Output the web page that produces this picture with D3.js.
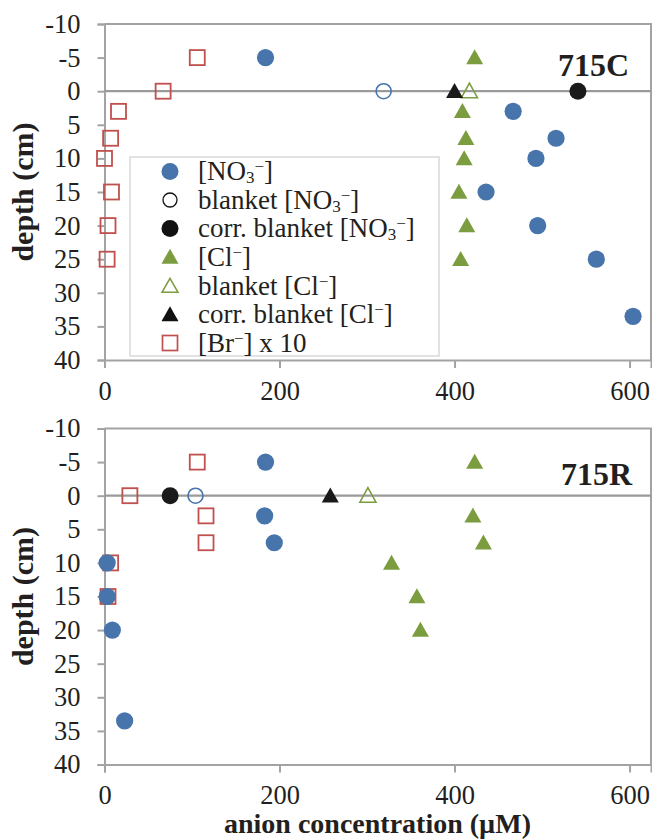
<!DOCTYPE html>
<html><head><meta charset="utf-8">
<script src="https://cdn.jsdelivr.net/npm/d3@7"></script>
<style>
body{margin:0;background:#fff;}
svg{display:block;}
svg text{font-family:"Liberation Serif","Times New Roman",serif;}
</style></head>
<body><svg id="c" width="652" height="839"></svg>
<script>
// ---- data (concentration in µM, depth in cm) ----
const xTicks = [0, 200, 400, 600];
const yTicks = [-10, -5, 0, 5, 10, 15, 20, 25, 30, 35, 40];

// 715C
const no3DepthC = [-5, 3, 7, 10, 15, 20, 25, 33.5];
const no3C      = [184, 467, 516, 493, 436, 495, 562, 604];
const clDepthC  = [-5, 3, 7, 10, 15, 20, 25];
const clC       = [423, 409, 413, 411, 405, 414, 407];
const brDepthC  = [-5, 0, 3, 7, 10, 15, 20, 25];
const brC       = [106, 67, 16, 7, 0, 8, 4, 3];
const blankNO3C = 319, corrNO3C = 541, blankClC = 417, corrClC = 400;

// 715R
const no3DepthR = [-5, 3, 7, 10, 15, 20, 33.5];
const no3R      = [184, 183, 194, 3, 3, 9, 23];
const clDepthR  = [-5, 3, 7, 10, 15, 20];
const clR       = [423, 421, 433, 328, 357, 361];
const brDepthR  = [-5, 0, 3, 7, 10, 15];
const brR       = [106, 29, 116, 116, 7, 4];
const blankNO3R = 104, corrNO3R = 75, blankClR = 301, corrClR = 258;

const legendLabels = ["[NO3−]", "blanket [NO3−]", "corr. blanket [NO3−]", "[Cl−]", "blanket [Cl−]", "corr. blanket [Cl−]", "[Br−] x 10"];

// ---- styles ----
const BLUE = "#4674ab", GREEN = "#7b9c3f", RED = "#c0504d", AX = "#a3a3a3", TXT = "#231f20";

const svg = d3.select("#c");
const x = d3.scaleLinear().domain([0, 624.5]).range([104.5, 651]);
const fmt = d => String(d); // plain hyphen minus, as in the reference

const panels = [
  {name: "715C", top: 24, no3: no3C, no3D: no3DepthC, cl: clC, clD: clDepthC, br: brC, brD: brDepthC,
   bN: blankNO3C, cN: corrNO3C, bC: blankClC, cC: corrClC, legend: true},
  {name: "715R", top: 428.5, no3: no3R, no3D: no3DepthR, cl: clR, clD: clDepthR, br: brR, brD: brDepthR,
   bN: blankNO3R, cN: corrNO3R, bC: blankClR, cC: corrClR, legend: false}
];

const tri = (g, cx, cy, w, h) => g.append("path")
  .attr("d", `M${cx},${cy - h*0.55} L${cx + w/2},${cy + h*0.45} L${cx - w/2},${cy + h*0.45} Z`);

panels.forEach(p => {
  const y = d3.scaleLinear().domain([-10, 40]).range([p.top, p.top + 336]);
  const g = svg.append("g");

  // frame: top & right border
  g.append("path").attr("d", `M104.5,${p.top}H651V${p.top + 336}`).attr("fill", "none")
    .attr("stroke", AX).attr("stroke-width", 2);

  // y axis
  const ya = g.append("g").attr("transform", "translate(104.5,0)")
    .call(d3.axisLeft(y).tickValues(yTicks).tickSize(7).tickPadding(17).tickFormat(fmt));
  ya.attr("font-family", null);
  ya.select(".domain").attr("stroke", AX).attr("stroke-width", 2);
  ya.selectAll(".tick line").attr("stroke", AX).attr("stroke-width", 2);
  ya.selectAll("text").attr("font-size", 26.5).attr("fill", TXT);

  // x axis
  const xa = g.append("g").attr("transform", `translate(0,${p.top + 336})`)
    .call(d3.axisBottom(x).tickValues(xTicks).tickSize(8).tickPadding(13).tickFormat(fmt));
  xa.attr("font-family", null);
  xa.select(".domain").attr("stroke", AX).attr("stroke-width", 2);
  xa.selectAll(".tick line").attr("stroke", AX).attr("stroke-width", 2);
  xa.selectAll("text").attr("font-size", 26.5).attr("fill", TXT);

  // zero line
  g.append("line").attr("x1", 104.5).attr("x2", 651).attr("y1", y(0)).attr("y2", y(0))
    .attr("stroke", "#9a9a9a").attr("stroke-width", 2.2);

  // y title
  g.append("text").attr("transform", `translate(33,${p.top + 168}) rotate(-90)`)
    .attr("text-anchor", "middle").attr("font-weight", "bold").attr("font-size", 30)
    .attr("fill", TXT).text("depth (cm)");

  // panel label
  g.append("text").attr("x", p.name === "715C" ? 629 : 632).attr("y", p.top + (p.name === "715C" ? 52 : 56))
    .attr("text-anchor", "end").attr("font-weight", "bold").attr("font-size", 32)
    .attr("fill", TXT).text(p.name);

  // legend
  if (p.legend) {
    const lg = g.append("g");
    lg.append("rect").attr("x", 130).attr("y", 157).attr("width", 309).attr("height", 199)
      .attr("fill", "#fff").attr("stroke", "#d9d9d9").attr("stroke-width", 1.5);
    const rows = [171.5, 200, 228.5, 257, 286, 314.5, 343];
    const mx = 170;
    lg.append("circle").attr("cx", mx).attr("cy", rows[0]).attr("r", 8.5).attr("fill", BLUE);
    lg.append("circle").attr("cx", mx).attr("cy", rows[1]).attr("r", 7).attr("fill", "none").attr("stroke", "#111").attr("stroke-width", 1.3);
    lg.append("circle").attr("cx", mx).attr("cy", rows[2]).attr("r", 8.5).attr("fill", "#111");
    tri(lg, mx, rows[3], 17, 15).attr("fill", GREEN);
    tri(lg, mx, rows[4], 16, 14).attr("fill", "none").attr("stroke", GREEN).attr("stroke-width", 1.5);
    tri(lg, mx, rows[5], 17, 15).attr("fill", "#111");
    lg.append("rect").attr("x", mx - 7.5).attr("y", rows[6] - 7.5).attr("width", 15).attr("height", 15)
      .attr("fill", "none").attr("stroke", RED).attr("stroke-width", 1.7);

    legendLabels.forEach((lab, i) => {
      const t = lg.append("text").attr("x", 198).attr("y", rows[i] + 8.5).attr("font-size", 27).attr("fill", TXT);
      const m = lab.match(/^(.*?)(NO3−|Cl−|Br−)(.*)$/);
      const pre = m[1], chem = m[2], post = m[3];
      t.append("tspan").text(pre);
      if (chem === "NO3−") {
        t.append("tspan").text("NO");
        t.append("tspan").attr("dy", 3).attr("font-size", 17).text("3");
        t.append("tspan").attr("dy", -11).attr("font-size", 17).text("−");
        t.append("tspan").attr("dy", 8).text(post);
      } else {
        t.append("tspan").text(chem.slice(0, -1));
        t.append("tspan").attr("dy", -8).attr("font-size", 17).text("−");
        t.append("tspan").attr("dy", 8).text(post);
      }
    });
  }

  // Br squares
  g.selectAll(null).data(p.br.map((v, i) => [v, p.brD[i]])).enter().append("rect")
    .attr("x", d => x(d[0]) - 7.5).attr("y", d => y(d[1]) - 7.5).attr("width", 15).attr("height", 15)
    .attr("fill", "none").attr("stroke", RED).attr("stroke-width", 1.8);

  // NO3 blanket / corrected blanket
  g.append("circle").attr("cx", x(p.bN)).attr("cy", y(0)).attr("r", 7.5).attr("fill", "none")
    .attr("stroke", BLUE).attr("stroke-width", 1.6);
  g.append("circle").attr("cx", x(p.cN)).attr("cy", y(0)).attr("r", 8.5).attr("fill", "#1a1a1a");

  // NO3 circles
  g.selectAll(null).data(p.no3.map((v, i) => [v, p.no3D[i]])).enter().append("circle")
    .attr("cx", d => x(d[0])).attr("cy", d => y(d[1])).attr("r", 8.6).attr("fill", BLUE);

  // Cl blanket / corrected blanket
  tri(g, x(p.bC), y(0), 16, 14.5).attr("fill", "none").attr("stroke", GREEN).attr("stroke-width", 1.6);
  tri(g, x(p.cC), y(0), 17, 15).attr("fill", "#1a1a1a");

  // Cl triangles
  p.cl.forEach((v, i) => tri(g, x(v), y(p.clD[i]), 17, 15).attr("fill", GREEN));
});

// x title
svg.append("text").attr("x", 377.5).attr("y", 833).attr("text-anchor", "middle")
  .attr("font-weight", "bold").attr("font-size", 28).attr("fill", TXT)
  .text("anion concentration (µM)");
</script></body></html>
